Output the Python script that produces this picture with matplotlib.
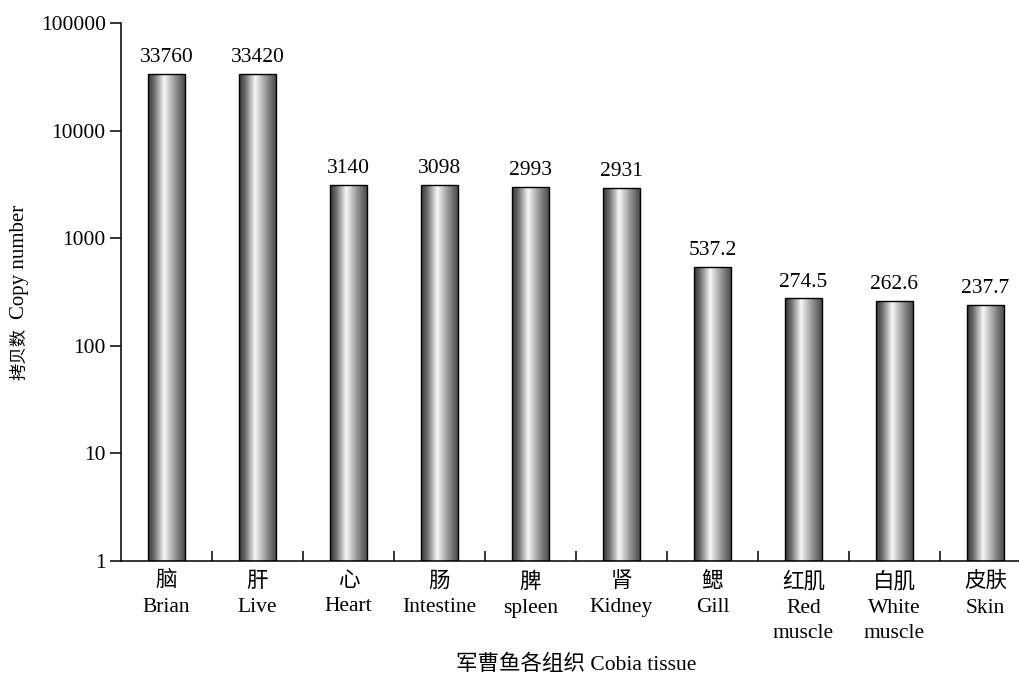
import numpy as np
import matplotlib
matplotlib.use("Agg")
import matplotlib.pyplot as plt
from matplotlib.colors import LinearSegmentedColormap
from matplotlib.ticker import FixedLocator, NullFormatter, NullLocator

plt.rcParams['font.family'] = ['Liberation Serif', 'Noto Sans CJK SC']

# Tissue names (Chinese / English) and copy numbers
tissues_cn = ["脑", "肝", "心", "肠", "脾", "肾", "鳃", "红肌", "白肌", "皮肤"]
tissues_en = ["Brian", "Live", "Heart", "Intestine", "spleen", "Kidney", "Gill",
              "Red\nmuscle", "White\nmuscle", "Skin"]
copy_numbers = [33760, 33420, 3140, 3098, 2993, 2931, 537.2, 274.5, 262.6, 237.7]
value_labels = ["33760", "33420", "3140", "3098", "2993", "2931",
                "537.2", "274.5", "262.6", "237.7"]
y_ticks = [1, 10, 100, 1000, 10000, 100000]

FS = 15.5

W, H = 1020, 673
fig = plt.figure(figsize=(W / 100, H / 100), dpi=100)
left_px, right_px, top_px, bottom_px = 121, 1031, 23, 561
ax = fig.add_axes([left_px / W, (H - bottom_px) / H,
                   (right_px - left_px) / W, (bottom_px - top_px) / H])

ax.set_yscale('log')
ax.set_ylim(1, 100000)
ax.set_xlim(-0.5, len(copy_numbers) - 0.5)

# Cylinder-like shading across each bar
shade = LinearSegmentedColormap.from_list(
    "cyl", [(0.0, (0.22, 0.22, 0.22)), (0.15, (0.42, 0.42, 0.42)),
            (0.42, (0.97, 0.97, 0.97)), (0.72, (0.58, 0.58, 0.58)),
            (1.0, (0.27, 0.27, 0.27))])
grad = np.linspace(0, 1, 256).reshape(1, -1)

bar_w = 0.41
x = np.arange(len(copy_numbers))
bars = ax.bar(x, copy_numbers, width=bar_w, bottom=1, facecolor='none',
              edgecolor='black', linewidth=1.0, zorder=3)
for b, xi, v in zip(bars, x, copy_numbers):
    im = ax.imshow(grad, cmap=shade, aspect='auto', interpolation='bilinear',
                   extent=(xi - bar_w / 2, xi + bar_w / 2, 1, v), zorder=2)
    im.set_clip_path(b)

for xi, v, lab in zip(x, copy_numbers, value_labels):
    ax.annotate(lab, (xi, v), xytext=(0, 5), textcoords='offset points',
                ha='center', va='bottom', fontsize=FS)

ax.set_xlim(-0.5, len(copy_numbers) - 0.5)
ax.set_ylim(1, 100000)

# Axes styling
for s in ('top', 'right'):
    ax.spines[s].set_visible(False)
for s in ('left', 'bottom'):
    ax.spines[s].set_linewidth(1.1)

ax.yaxis.set_major_locator(FixedLocator(y_ticks))
ax.yaxis.set_minor_locator(NullLocator())
ax.set_yticklabels([str(t) for t in y_ticks], fontsize=FS)
ax.tick_params(axis='y', direction='out', length=8, width=1.1, pad=3)

ax.set_xticks(x)
ax.set_xticklabels([f"{c}\n{e}" for c, e in zip(tissues_cn, tissues_en)],
                   fontsize=FS, linespacing=1.45)
ax.tick_params(axis='x', which='major', length=0, pad=8)
ax.xaxis.set_minor_locator(FixedLocator(x[:-1] + 0.5))
ax.xaxis.set_minor_formatter(NullFormatter())
ax.tick_params(axis='x', which='minor', direction='in', length=7, width=1.1)

ax.set_xlabel("军曹鱼各组织 Cobia tissue", fontsize=FS, labelpad=8)

# Y-axis title: Chinese part set smaller than the English part
fig.text(20 / W, 1 - 354 / H, "拷贝数", rotation=90,
         ha='center', va='center', fontsize=12.5)
fig.text(20 / W, 1 - 262 / H, "Copy number", rotation=90,
         ha='center', va='center', fontsize=15)

fig.savefig("out.png", dpi=100)
